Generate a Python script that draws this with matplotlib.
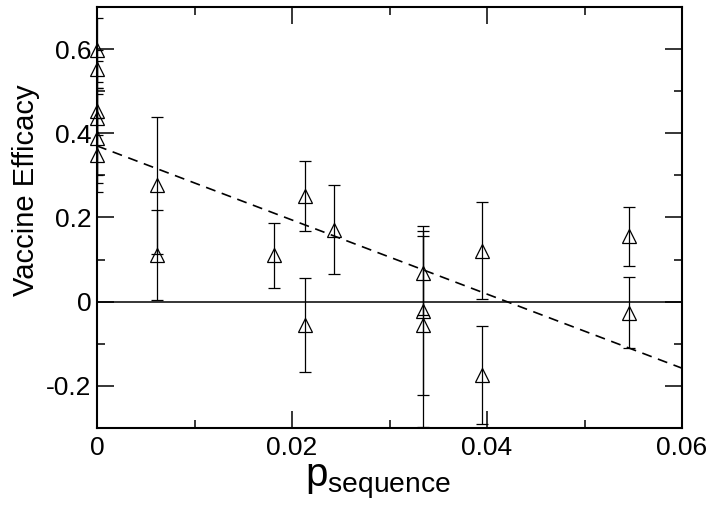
import matplotlib
matplotlib.use('Agg')
import matplotlib.pyplot as plt
from matplotlib.ticker import MultipleLocator, FixedLocator
import numpy as np

plt.rcParams['font.family'] = ['Liberation Sans', 'DejaVu Sans']
plt.rcParams['mathtext.default'] = 'regular'
plt.rcParams['axes.unicode_minus'] = False

# measured efficacy per sequence distance, with lower / upper error
p_seq = [0.0, 0.0, 0.0, 0.0, 0.0, 0.0,
         0.0062, 0.0062,
         0.0182,
         0.0213, 0.0213,
         0.0243,
         0.0334, 0.0334, 0.0334,
         0.0395, 0.0395,
         0.0546, 0.0546]
efficacy = [0.598, 0.552, 0.452, 0.436, 0.388, 0.348,
            0.276, 0.110,
            0.110,
            0.250, -0.055,
            0.171,
            0.069, -0.021, -0.055,
            0.121, -0.174,
            0.155, -0.026]
err_lo = [0.076, 0.045, 0.055, 0.136, 0.105, 0.088,
          0.162, 0.107,
          0.078,
          0.083, 0.111,
          0.106,
          0.100, 0.200, 0.243,
          0.115, 0.117,
          0.070, 0.085]
err_hi = [0.076, 0.045, 0.055, 0.136, 0.105, 0.088,
          0.162, 0.107,
          0.078,
          0.083, 0.111,
          0.106,
          0.100, 0.200, 0.212,
          0.115, 0.117,
          0.070, 0.085]

# linear fit
fit_intercept = 0.37
fit_slope = -8.8

x_ticks = [0, 0.02, 0.04, 0.06]
x_labels = ['0', '0.02', '0.04', '0.06']
y_ticks = [-0.2, 0, 0.2, 0.4, 0.6]
y_labels = ['-0.2', '0', '0.2', '0.4', '0.6']

fig = plt.figure(figsize=(7.14, 5.05), dpi=100)
ax = fig.add_axes([0.1359, 0.1525, 0.8193, 0.8337])

ax.axhline(0, color='black', lw=1.1, zorder=1)

xf = np.array([0, 0.06])
ax.plot(xf, fit_intercept + fit_slope * xf, color='black', lw=1.2,
        linestyle=(0, (6, 4)), zorder=2)

# error bars (clipped to the axes), then open triangles drawn unclipped
ax.errorbar(p_seq, efficacy, yerr=[err_lo, err_hi], fmt='none',
            ecolor='black', elinewidth=0.9, capsize=4, capthick=0.9, zorder=3)
ax.plot(p_seq, efficacy, linestyle='none', marker='^', ms=10,
        mfc='none', mec='black', mew=0.9, zorder=4, clip_on=False)

ax.set_xlim(0, 0.06)
ax.set_ylim(-0.3, 0.7)
ax.xaxis.set_major_locator(FixedLocator(x_ticks))
ax.set_xticklabels(x_labels)
ax.xaxis.set_minor_locator(MultipleLocator(0.01))
ax.yaxis.set_major_locator(FixedLocator(y_ticks))
ax.set_yticklabels(y_labels)
ax.yaxis.set_minor_locator(MultipleLocator(0.1))

ax.tick_params(which='both', direction='in', top=True, right=True,
               labelsize=19, width=1.1)
ax.tick_params(axis='y', pad=4)
ax.tick_params(axis='x', pad=6)
ax.tick_params(which='major', length=12)
ax.tick_params(which='minor', length=6)
for s in ax.spines.values():
    s.set_linewidth(1.5)

ax.set_xlabel(r'p$_{sequence}$', fontsize=29)
ax.set_ylabel('Vaccine Efficacy', fontsize=21)
ax.xaxis.set_label_coords(0.48, -0.08, transform=ax.transAxes)
ax.yaxis.set_label_coords(-0.097, 0.565, transform=ax.transAxes)

fig.savefig('out.png', dpi=100)
